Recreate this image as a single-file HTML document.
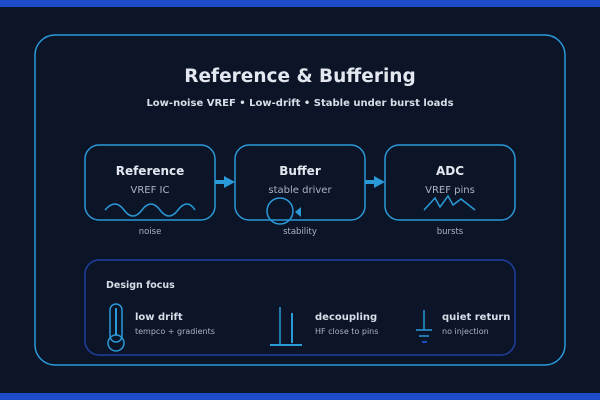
<!DOCTYPE html>
<html><head><style>body{margin:0;background:#0c1427}svg{display:block}</style></head><body>
<svg width="600" height="400" viewBox="0 0 600 400" xmlns="http://www.w3.org/2000/svg" font-family="'DejaVu Sans','Liberation Sans',sans-serif">
<rect width="600" height="400" fill="#0c1427"/>
<rect width="600" height="7" fill="#1e4bc8"/>
<rect y="393" width="600" height="7" fill="#1e4bc8"/>
<rect x="35" y="35" width="530" height="330" rx="20" fill="none" stroke="#2a9ad8" stroke-width="1.5"/>
<text x="300" y="82" text-anchor="middle" font-size="18.5" font-weight="bold" fill="#e3e8f0">Reference &amp; Buffering</text>
<text x="300" y="106" text-anchor="middle" font-size="10" font-weight="bold" fill="#d8dee8">Low-noise VREF • Low-drift • Stable under burst loads</text>
<g fill="none" stroke="#2a9ad8" stroke-width="1.5">
<rect x="85" y="145" width="130" height="75" rx="14"/>
<rect x="235" y="145" width="130" height="75" rx="14"/>
<rect x="385" y="145" width="130" height="75" rx="14"/>
<path d="M105 210 C112 202,118 202,124 210 S136 218,142 210 S154 202,160 210 S172 218,178 210 S190 202,195 210"/>
<circle cx="280" cy="211" r="13"/>
<polyline points="424,210 435,198 440,207 448,196 453,205 461,199 475,210"/>
</g>
<g stroke="#2a9ad8" stroke-width="4"><line x1="215" y1="182" x2="226" y2="182"/><line x1="365" y1="182" x2="376" y2="182"/></g>
<g fill="#2a9ad8"><polygon points="224,176 235,182 224,188"/><polygon points="374,176 385,182 374,188"/><polygon points="295,212 301,207 301,217"/></g>
<g text-anchor="middle">
<text x="150" y="175" font-size="12" font-weight="bold" fill="#e3e8f0">Reference</text>
<text x="300" y="175" font-size="12" font-weight="bold" fill="#e3e8f0">Buffer</text>
<text x="450" y="175" font-size="12" font-weight="bold" fill="#e3e8f0">ADC</text>
<g font-size="10" fill="#aab4c4"><text x="150" y="193">VREF IC</text><text x="300" y="193">stable driver</text><text x="450" y="193">VREF pins</text></g>
<g font-size="8.5" fill="#aab4c4"><text x="150" y="234">noise</text><text x="300" y="234">stability</text><text x="450" y="234">bursts</text></g>
</g>
<rect x="85" y="260" width="430" height="95" rx="14" fill="none" stroke="#1e40a0" stroke-width="1.5"/>
<text x="106" y="288" font-size="9.5" font-weight="bold" fill="#d8dee8">Design focus</text>
<g fill="none" stroke="#2a9ad8" stroke-width="1.5">
<rect x="110" y="304" width="12" height="38" rx="6"/>
<circle cx="116" cy="343" r="8"/>
<line x1="116" y1="308" x2="116" y2="335" stroke-width="2"/>
<line x1="280" y1="307" x2="280" y2="345"/>
<line x1="292" y1="313" x2="292" y2="343" stroke-width="2"/>
<line x1="270" y1="345" x2="302" y2="345" stroke-width="2"/>
<line x1="424" y1="310" x2="424" y2="330"/>
<line x1="416" y1="330" x2="432" y2="330"/>
<line x1="419" y1="336" x2="429" y2="336"/>
<line x1="422" y1="342" x2="427" y2="342" stroke-width="2" stroke="#1e4bc8"/>
</g>
<g font-size="10" font-weight="bold" fill="#d8dee8"><text x="135" y="320">low drift</text><text x="315" y="320">decoupling</text><text x="442" y="320">quiet return</text></g>
<g font-size="8" fill="#aab4c4"><text x="135" y="334">tempco + gradients</text><text x="315" y="334">HF close to pins</text><text x="442" y="334">no injection</text></g>
</svg>
</body></html>
